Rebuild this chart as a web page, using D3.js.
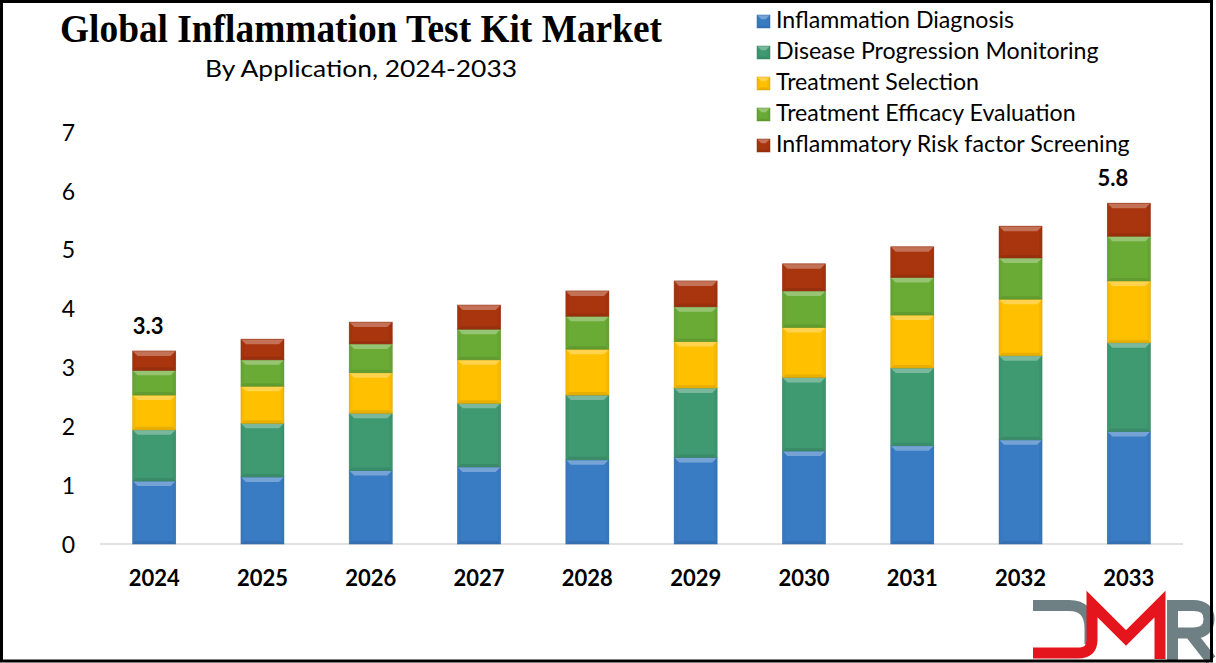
<!DOCTYPE html>
<html>
<head>
<meta charset="utf-8">
<script src="https://cdn.jsdelivr.net/npm/d3@7/dist/d3.min.js"></script>
<style>
  html, body { margin: 0; padding: 0; background: #fff; }
  svg { display: block; }
  text { font-family: Lato, "Open Sans", sans-serif; fill: #000; }
</style>
</head>
<body>
<svg id="chart" width="1216" height="663"></svg>
<script>
// ---- data ----
const years = ["2024","2025","2026","2027","2028","2029","2030","2031","2032","2033"];
const seriesNames = ["Inflammation Diagnosis","Disease Progression Monitoring","Treatment Selection","Treatment Efficacy Evaluation","Inflammatory Risk factor Screening"];
const inflammationDiagnosis = [1.07,1.14,1.25,1.31,1.43,1.47,1.58,1.67,1.77,1.91];
const diseaseProgressionMonitoring = [0.87,0.91,0.97,1.08,1.10,1.18,1.25,1.32,1.43,1.51];
const treatmentSelection = [0.59,0.63,0.69,0.74,0.78,0.79,0.85,0.90,0.96,1.05];
const treatmentEfficacyEvaluation = [0.42,0.45,0.49,0.52,0.56,0.59,0.62,0.64,0.70,0.76];
const inflammatoryRiskScreening = [0.33,0.35,0.37,0.41,0.43,0.44,0.46,0.52,0.54,0.56];
const yTicks = [0,1,2,3,4,5,6,7];
const labelYears = ["2024","2033"];
const labelTexts = ["3.3","5.8"];
const colors = ["#3a7cc4","#3f9a72","#ffc000","#6aab35","#a9350f"];

// ---- setup ----
const svg = d3.select("#chart");
const W = 1216, H = 663;
svg.append("rect").attr("width", W).attr("height", H).attr("fill", "#fff");

const table = years.map((y, i) => ({
  year: y,
  s0: inflammationDiagnosis[i],
  s1: diseaseProgressionMonitoring[i],
  s2: treatmentSelection[i],
  s3: treatmentEfficacyEvaluation[i],
  s4: inflammatoryRiskScreening[i]
}));
const keys = ["s0","s1","s2","s3","s4"];
const stacked = d3.stack().keys(keys)(table);

const x = d3.scaleBand().domain(years).range([100, 1183]).paddingInner(0.603).paddingOuter(0.3015);
const y = d3.scaleLinear().domain([0, 7]).range([544, 132]);

// baseline
svg.append("line")
  .attr("x1", 100).attr("x2", 1183)
  .attr("y1", y(0)).attr("y2", y(0))
  .attr("stroke", "#d9d9d9").attr("stroke-width", 1.5);

// y tick labels
const yAxis = d3.axisLeft(y).tickValues(yTicks).tickSize(0).tickPadding(0).tickFormat(d3.format("d"));
const yg = svg.append("g").attr("transform", "translate(75,0)").call(yAxis);
yg.select(".domain").remove();
yg.selectAll("text")
  .style("font-family", "Lato, sans-serif")
  .attr("font-size", 23).attr("fill", "#000").attr("dy", "0.36em");

// x tick labels
const xAxis = d3.axisBottom(x).tickSize(0).tickPadding(0);
const xg = svg.append("g").attr("transform", "translate(0,568)").call(xAxis);
xg.select(".domain").remove();
xg.selectAll("text")
  .style("font-family", "Lato, sans-serif")
  .attr("font-size", 22).attr("font-weight", "bold").attr("fill", "#000").attr("dy", "0.8em");

// bevelled segment drawer
function bevel(g, x0, y0, w, h, color) {
  const c = d3.color(color);
  const b = Math.min(5, h / 3);
  const light = d3.interpolateRgb(color, "#ffffff")(0.3);
  const dark = c.darker(0.5).formatHex();
  const side = c.darker(0.15).formatHex();
  g.append("rect").attr("x", x0).attr("y", y0).attr("width", w).attr("height", h).attr("fill", color);
  g.append("polygon").attr("points", [[x0,y0],[x0+w,y0],[x0+w-b,y0+b],[x0+b,y0+b]].join(" ")).attr("fill", light);
  g.append("polygon").attr("points", [[x0,y0],[x0+b*0.6,y0+b],[x0+b*0.6,y0+h-b*0.6],[x0,y0+h]].join(" ")).attr("fill", side).attr("opacity", 0.6);
  g.append("polygon").attr("points", [[x0+w,y0],[x0+w-b*0.6,y0+b],[x0+w-b*0.6,y0+h-b*0.6],[x0+w,y0+h]].join(" ")).attr("fill", side).attr("opacity", 0.8);
  g.append("polygon").attr("points", [[x0,y0+h],[x0+b*0.6,y0+h-b*0.6],[x0+w-b*0.6,y0+h-b*0.6],[x0+w,y0+h]].join(" ")).attr("fill", dark).attr("opacity", 0.55);
  g.append("rect").attr("x", x0).attr("y", y0).attr("width", w).attr("height", h)
    .attr("fill", "none").attr("stroke", dark).attr("stroke-width", 0.8).attr("stroke-opacity", 0.6);
}

const barsG = svg.append("g");
stacked.forEach((layer, si) => {
  layer.forEach(d => {
    const g = barsG.append("g");
    const x0 = x(d.data.year), w = x.bandwidth();
    const yTop = y(d[1]), yBot = y(d[0]);
    bevel(g, x0, yTop, w, yBot - yTop, colors[si]);
  });
});

// value labels
const labelOffsets = [-6, -16];
labelYears.forEach((yr, i) => {
  const idx = years.indexOf(yr);
  const total = stacked[stacked.length - 1][idx][1];
  svg.append("text")
    .attr("x", x(yr) + x.bandwidth() / 2 + labelOffsets[i])
    .attr("y", y(total) - 17)
    .attr("text-anchor", "middle")
    .attr("font-size", 22).attr("font-weight", "bold")
    .text(labelTexts[i]);
});

// title
svg.append("text")
  .attr("x", 361).attr("y", 42).attr("text-anchor", "middle")
  .style("font-family", "'Liberation Serif', 'Times New Roman', serif")
  .attr("font-size", 39).attr("font-weight", "bold")
  .attr("textLength", 602).attr("lengthAdjust", "spacingAndGlyphs")
  .text("Global Inflammation Test Kit Market");
svg.append("text")
  .attr("x", 361).attr("y", 77).attr("text-anchor", "middle")
  .attr("font-size", 23)
  .attr("textLength", 312).attr("lengthAdjust", "spacingAndGlyphs")
  .text("By Application, 2024-2033");

// legend
const legend = svg.append("g");
seriesNames.forEach((name, i) => {
  const ly = 15 + i * 31;
  const g = legend.append("g");
  bevel(g, 757, ly, 13, 13, colors[i]);
  g.append("text").attr("x", 776).attr("y", ly + 13)
    .attr("font-size", 22).attr("fill", "#000").text(name);
});
// fit legend widest string to reference width
const widest = legend.selectAll("text").nodes().reduce((m, n) => Math.max(m, n.getComputedTextLength()), 0);
if (widest > 0) {
  const fs = 22 * 354 / widest;
  legend.selectAll("text").attr("font-size", fs);
}

// logo
const logo = svg.append("g").attr("transform", "translate(1033,600)");
logo.append("path").attr("d", "M0,5.5 L36,5.5 Q57,5.5 57,28 L57,44")
  .attr("fill", "none").attr("stroke", "#6e8083").attr("stroke-width", 11);
logo.append("path").attr("d", "M0,53 L45,53 Q59,53 59,40 L59,4 L93,38 L127,4 L127,59")
  .attr("fill", "none").attr("stroke", "#e5151d").attr("stroke-width", 11).attr("stroke-linejoin", "miter");
logo.append("path").attr("d", "M139.5,0 L139.5,60 M139.5,5.5 L160,5.5 Q176,5.5 176,19 Q176,33 160,33 L139.5,33 M157,33 L178,60")
  .attr("fill", "none").attr("stroke", "#6e8083").attr("stroke-width", 11);

// border
svg.append("rect").attr("x", 1.5).attr("y", 1.5).attr("width", 1210).attr("height", 659.5)
  .attr("fill", "none").attr("stroke", "#000").attr("stroke-width", 3);
</script>
</body>
</html>
